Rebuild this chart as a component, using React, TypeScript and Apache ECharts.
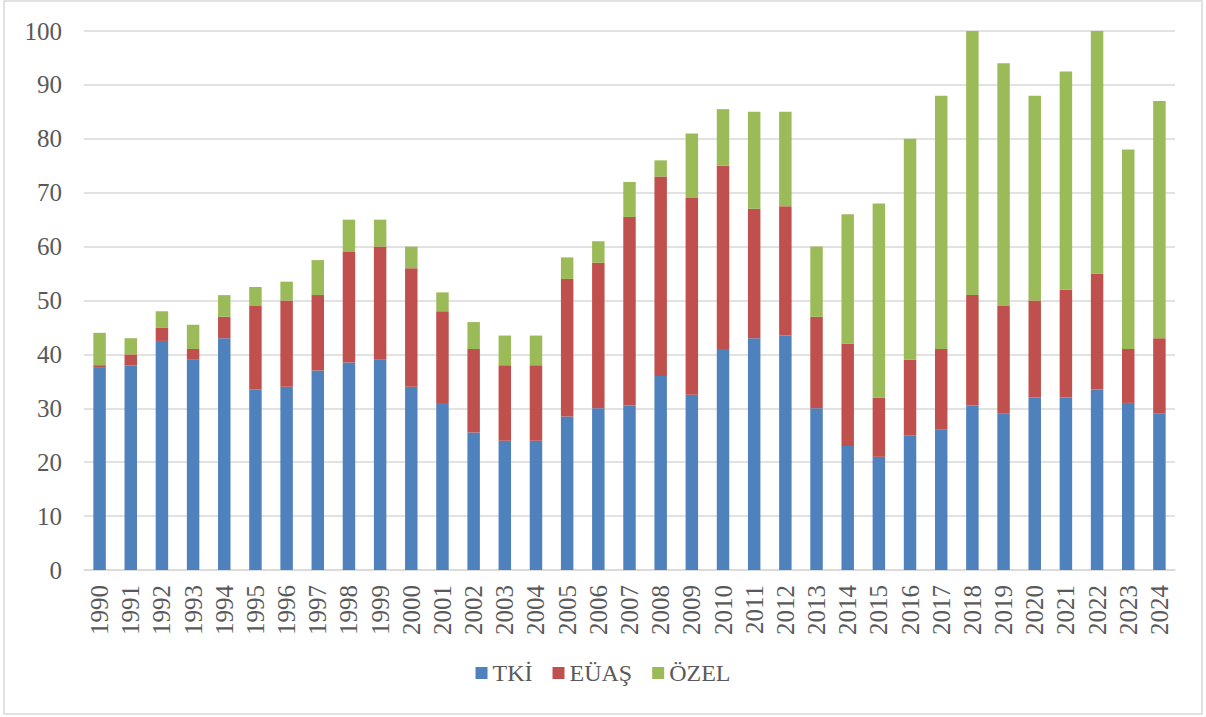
import React, { useEffect, useRef } from "react";
import * as echarts from "echarts";

const years = [
  "1990", "1991", "1992", "1993", "1994", "1995", "1996", "1997", "1998", "1999",
  "2000", "2001", "2002", "2003", "2004", "2005", "2006", "2007", "2008", "2009",
  "2010", "2011", "2012", "2013", "2014", "2015", "2016", "2017", "2018", "2019",
  "2020", "2021", "2022", "2023", "2024",
];

const tki = [
  37.5, 38, 42.5, 39, 43, 33.5, 34, 37, 38.5, 39,
  34, 31, 25.5, 24, 24, 28.5, 30, 30.5, 36, 32.5,
  41, 43, 43.5, 30, 23, 21, 25, 26, 30.5, 29,
  32, 32, 33.5, 31, 29,
];

const euas = [
  0.5, 2, 2.5, 2, 4, 15.5, 16, 14, 20.5, 21,
  22, 17, 15.5, 14, 14, 25.5, 27, 35, 37, 36.5,
  34, 24, 24, 17, 19, 11, 14, 15, 20.5, 20,
  18, 20, 21.5, 10, 14,
];

const ozel = [
  6, 3, 3, 4.5, 4, 3.5, 3.5, 6.5, 6, 5,
  4, 3.5, 5, 5.5, 5.5, 4, 4, 6.5, 3, 12,
  10.5, 18, 17.5, 13, 24, 36, 41, 47, 49, 45,
  38, 40.5, 45, 37, 44,
];

const seriesNames = ["TKİ", "EÜAŞ", "ÖZEL"];
const colors = ["#4f81bd", "#c0504d", "#9bbb59"];

const FONT = "'Liberation Serif', 'Times New Roman', serif";

export default function App() {
  const ref = useRef<HTMLDivElement>(null);

  useEffect(() => {
    document.body.style.margin = "0";
    if (!ref.current) return;
    const chart = echarts.init(ref.current, undefined, { renderer: "svg" });
    const datasets = [tki, euas, ozel];
    chart.setOption({
      animation: false,
      backgroundColor: "#ffffff",
      textStyle: { fontFamily: FONT },
      graphic: [
        {
          type: "rect",
          shape: { x: 4, y: 1, width: 1198, height: 713 },
          style: { fill: "none", stroke: "#d9d9d9", lineWidth: 1.5 },
          silent: true,
          z: -1,
        },
      ],
      grid: { left: 84, right: 31, top: 31, bottom: 147, containLabel: false },
      legend: {
        data: seriesNames,
        bottom: 27,
        left: "center",
        itemWidth: 12,
        itemHeight: 12,
        itemGap: 20,
        icon: "rect",
        textStyle: {
          fontFamily: FONT,
          fontSize: 24,
          color: "#595959",
        },
      },
      xAxis: {
        type: "category",
        data: years,
        axisLine: { show: true, lineStyle: { color: "#d9d9d9", width: 1.5 } },
        axisTick: { show: false },
        axisLabel: {
          rotate: 90,
          margin: 15,
          interval: 0,
          fontFamily: FONT,
          fontSize: 25,
          color: "#595959",
        },
      },
      yAxis: {
        type: "value",
        min: 0,
        max: 100,
        interval: 10,
        axisLine: { show: false },
        axisTick: { show: false },
        splitLine: { lineStyle: { color: "#d9d9d9", width: 1.5 } },
        axisLabel: {
          margin: 22,
          fontFamily: FONT,
          fontSize: 25,
          color: "#595959",
        },
      },
      series: seriesNames.map((name, i) => ({
        name,
        type: "bar",
        stack: "total",
        data: datasets[i],
        barCategoryGap: "60%",
        itemStyle: { color: colors[i] },
        emphasis: { disabled: true },
      })),
    });
    return () => {
      chart.dispose();
    };
  }, []);

  return <div ref={ref} style={{ width: 1206, height: 717 }} />;
}
